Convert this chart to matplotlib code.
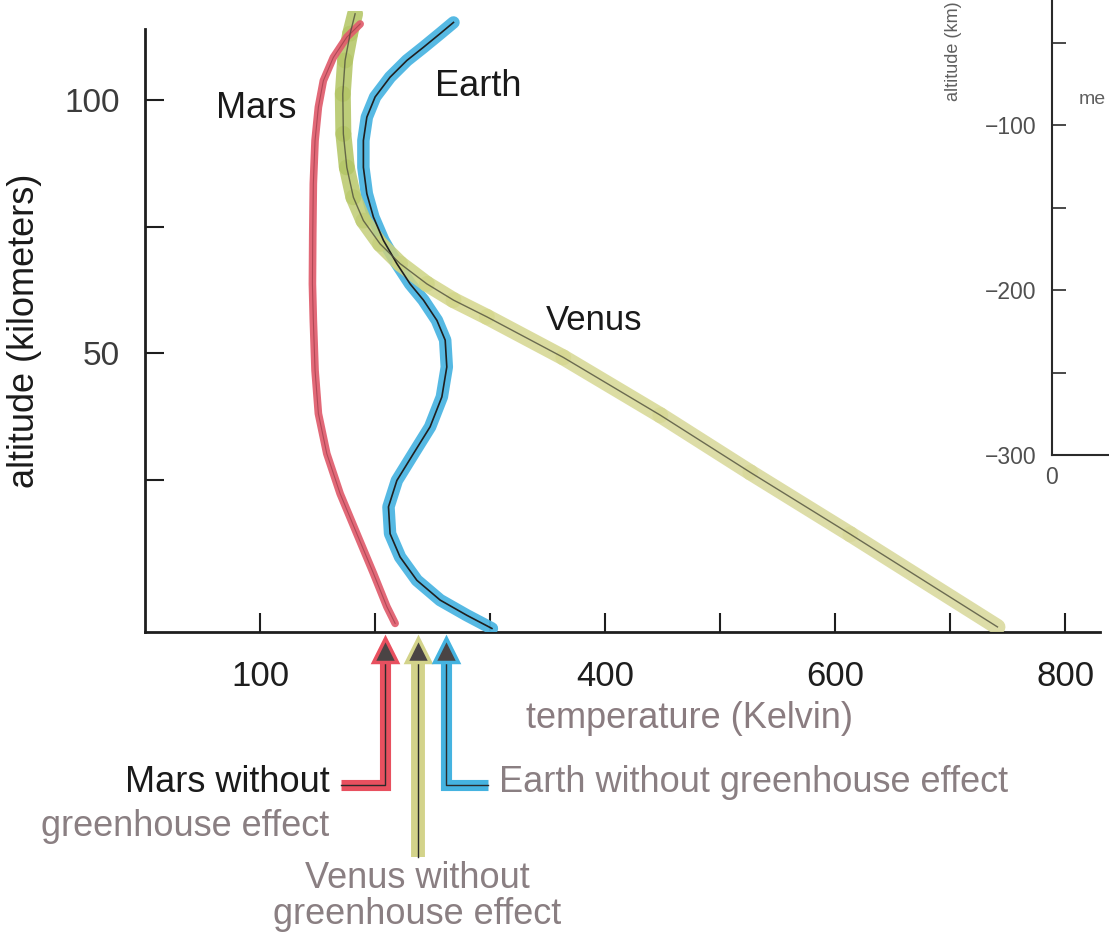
import numpy as np
import matplotlib.pyplot as plt
from matplotlib.collections import LineCollection
from matplotlib.colors import LinearSegmentedColormap

W, H = 1109, 944

# temperature (K) / altitude (km) profiles, surface upward
mars_T = [217.4, 210.2, 198.5, 184.1, 169.6, 158.0, 150.7, 147.8, 146.3, 145.5,
          145.8, 146.3, 147.8, 150.7, 155.0, 163.7, 175.4, 187.0]
mars_h = [-3.3, 0.0, 6.6, 14.4, 22.3, 30.2, 38.1, 46.6, 56.5, 63.7,
          73.6, 83.5, 92.0, 98.6, 103.8, 108.4, 112.4, 115.0]

earth_T = [301.5, 279.7, 256.5, 236.3, 221.7, 213.0, 211.6, 218.9, 233.3, 247.8,
           258.0, 262.3, 260.9, 253.7, 242.0, 230.4, 218.9, 207.2, 198.5, 192.8,
           189.8, 189.8, 192.8, 200.0, 213.0, 227.6, 242.0, 256.5, 268.1]
earth_h = [-4.3, -1.7, 1.3, 5.2, 9.8, 14.4, 19.7, 24.9, 30.2, 35.5,
           41.4, 47.3, 52.6, 56.5, 60.5, 63.7, 67.7, 72.3, 76.9, 81.5,
           86.7, 92.0, 96.6, 100.6, 104.5, 107.8, 110.4, 113.1, 115.3]

venus_T = [740.9, 613.0, 526.1, 447.8, 363.5, 297.1, 268.1, 245.0, 221.7, 204.3,
           189.8, 181.1, 175.4, 172.4, 171.9, 173.9, 178.3, 182.6]
venus_h = [-4.0, 14.3, 26.5, 37.8, 49.2, 57.2, 60.5, 63.7, 67.7, 71.6,
           76.2, 80.8, 86.7, 93.3, 101.2, 107.8, 113.1, 117.0]

# surface temperature each planet would have without greenhouse effect
bare_names = ['Mars', 'Venus', 'Earth']
bare_T = [209, 237, 262]

x_ticks = [100, 200, 300, 400, 500, 600, 700, 800]
x_labels = ['100', '', '', '400', '', '600', '', '800']
y_ticks = [25, 50, 75, 100]
y_labels = ['', '50', '', '100']

side_ticks = [-300, -250, -200, -150, -100, -50]
side_labels = ['\u2212300', '', '\u2212200', '', '\u2212100', '']

plt.rcParams['font.family'] = ['Liberation Sans', 'DejaVu Sans']


def fx(x):
    return x / W


def fy(y):
    return 1 - y / H


fig = plt.figure(figsize=(W / 100, H / 100), dpi=100)

ax = fig.add_axes([fx(145), fy(632), 955 / W, 620.7 / H])
ax.patch.set_visible(False)
ax.set_xlim(0, 830)
ax.set_ylim(-5, 117.5)
for s in ['top', 'right']:
    ax.spines[s].set_visible(False)
for s in ['left', 'bottom']:
    ax.spines[s].set_linewidth(2)
    ax.spines[s].set_color('#1e1e1e')
ax.spines['left'].set_bounds(-5, 114)

ax.set_xticks(x_ticks)
ax.set_xticklabels(x_labels)
ax.set_yticks(y_ticks)
ax.set_yticklabels(y_labels)
ax.tick_params(axis='x', direction='in', length=14, width=1.5, labelsize=25,
               pad=20, colors='#1e1e1e')
ax.tick_params(axis='y', direction='in', length=14, width=1.5, labelsize=24,
               pad=18, colors='#1e1e1e', labelcolor='#3c3c3c')

# Earth band
ax.plot(earth_T, earth_h, color='#4db6e2', lw=9, solid_capstyle='round',
        solid_joinstyle='round', alpha=0.95, zorder=3)

# Venus band, olive at top fading to pale khaki lower down
pts = np.column_stack([venus_T, venus_h])
segs = np.stack([pts[:-1], pts[1:]], axis=1)
mid_h = (pts[:-1, 1] + pts[1:, 1]) / 2
vcmap = LinearSegmentedColormap.from_list('venus', ['#d9d99c', '#d6d890', '#b4c667'])
vcols = vcmap(np.clip((mid_h - 30) / 60, 0, 1))
lc = LineCollection(segs, colors=vcols, linewidths=11.5, capstyle='round',
                    joinstyle='round', alpha=0.88, zorder=4)
ax.add_collection(lc)

# Mars line
ax.plot(mars_T, mars_h, color='#e05c6c', lw=5.5, solid_capstyle='round',
        solid_joinstyle='round', alpha=0.92, zorder=5)

# thin dark centre lines
ax.plot(earth_T, earth_h, color='#1f1f1f', lw=1.2, zorder=6)
ax.plot(venus_T, venus_h, color='#4f4f3c', lw=1.0, alpha=0.8, zorder=6)
ax.plot(mars_T, mars_h, color='#8e3440', lw=0.8, alpha=0.6, zorder=6)

ax.text(96.5, 98.3, 'Mars', fontsize=26, color='#1a1a1a', ha='center', va='center')
ax.text(289.6, 102.7, 'Earth', fontsize=26, color='#1a1a1a', ha='center', va='center')
ax.text(390.4, 56.5, 'Venus', fontsize=25, color='#1a1a1a', ha='center', va='center')

# arrows marking the no-greenhouse temperatures
arrow_colors = {'Mars': '#e8505f', 'Venus': '#d3d38a', 'Earth': '#45b3e0'}
arrow_tails = {'Mars': (-35.2, 170), 'Venus': (-49.5, None), 'Earth': (-35.2, 298)}
arrow_widths = {'Mars': 8, 'Venus': 10, 'Earth': 8}
for name, T in zip(bare_names, bare_T):
    c = arrow_colors[name]
    yb, xe = arrow_tails[name]
    if xe is None:
        xs, ys = [T, T], [-10, yb]
    else:
        xs, ys = [T, T, xe], [-10, yb, yb]
    ax.plot(xs, ys, color=c, lw=arrow_widths[name], clip_on=False,
            solid_joinstyle='miter', solid_capstyle='butt', zorder=3)
    ax.plot(xs, ys, color='#2a2a2a', lw=1, clip_on=False, zorder=4)
    ax.plot([T], [-8.6], marker='^', ms=17, mfc='#4a4444', mec=c, mew=2.5,
            clip_on=False, zorder=5)

ax.text(-105, 54.5, 'altitude (kilometers)', rotation=90, fontsize=26,
        color='#1a1a1a', ha='center', va='center', transform=ax.transData)

fig.text(fx(690), fy(718), 'temperature (Kelvin)', fontsize=26, color='#8a7c80',
         ha='center', va='center')
fig.text(fx(330), fy(783), 'Mars without', fontsize=26, color='#1a1a1a',
         ha='right', va='center')
fig.text(fx(329), fy(826), 'greenhouse effect', fontsize=26, color='#8a7f82',
         ha='right', va='center')
fig.text(fx(499), fy(783), 'Earth without greenhouse effect', fontsize=26,
         color='#8a7f82', ha='left', va='center')
fig.text(fx(417), fy(878), 'Venus without', fontsize=26, color='#8a7f82',
         ha='center', va='center')
fig.text(fx(417), fy(915), 'greenhouse effect', fontsize=26, color='#8a7f82',
         ha='center', va='center')

# neighbouring panel, cut off at the right edge of the page
ax2 = fig.add_axes([fx(1052), fy(455), 0.3, 472 / H])
ax2.patch.set_visible(False)
ax2.set_ylim(-300, -300 + 472 / 1.65)
ax2.set_xlim(0, 1000)
for s in ['top', 'right']:
    ax2.spines[s].set_visible(False)
for s in ['left', 'bottom']:
    ax2.spines[s].set_linewidth(1.5)
    ax2.spines[s].set_color('#2a2a2a')
ax2.set_yticks(side_ticks)
ax2.set_yticklabels(side_labels)
ax2.set_xticks([0])
ax2.set_xticklabels(['0'])
ax2.tick_params(axis='y', direction='in', length=10, width=1.2, labelsize=16.5,
                pad=11, colors='#2a2a2a', labelcolor='#505050')
ax2.tick_params(axis='x', length=0, labelsize=16.5, pad=8, labelcolor='#505050')
fig.text(fx(953), fy(101), 'altitude (km)', rotation=90, rotation_mode='anchor',
         ha='left', va='center', fontsize=13, color='#606060')
fig.text(fx(1079), fy(100), 'me', fontsize=14, color='#606060',
         ha='left', va='center')

fig.savefig('out.png', dpi=100)
